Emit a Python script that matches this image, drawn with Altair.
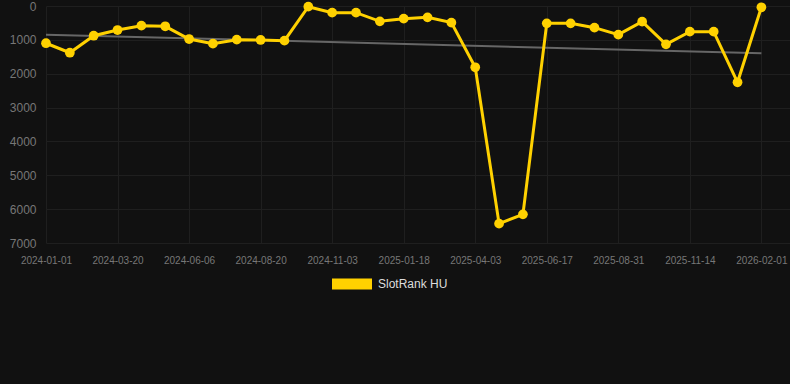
import altair as alt
import pandas as pd

# Data
tick_labels = ["2024-01-01", "2024-03-20", "2024-06-06", "2024-08-20", "2024-11-03",
               "2025-01-18", "2025-04-03", "2025-06-17", "2025-08-31", "2025-11-14",
               "2026-02-01"]
ranks = [1100, 1379, 877, 709, 581, 600, 975, 1112, 994, 1004, 1024,
         20, 197, 197, 453, 374, 335, 492, 1811, 6429, 6153,
         512, 512, 640, 847, 463, 1132, 758, 758, 2254, 39]
y_ticks = [0, 1000, 2000, 3000, 4000, 5000, 6000, 7000]
series_name = "SlotRank HU"

df = pd.DataFrame({
    "idx": list(range(len(ranks))),
    "rank": ranks,
    "series": [series_name] * len(ranks),
})

label_expr = "[" + ",".join(f"'{t}'" for t in tick_labels) + "][round(datum.value/3)]"

GOLD = "#FFD100"
BG = "#111111"

x_enc = alt.X("idx:Q",
              scale=alt.Scale(domain=[0, 31.2], nice=False, zero=False),
              axis=alt.Axis(values=list(range(0, 31, 3)), labelExpr=label_expr,
                            title=None, grid=True, domain=False, ticks=False,
                            labelFlush=False, labelOverlap=False,
                            labelFontSize=10, labelColor="#777777", labelPadding=12,
                            labelFont="Arial"))
y_enc = alt.Y("rank:Q",
              scale=alt.Scale(domain=[0, 7000], reverse=True, nice=False),
              axis=alt.Axis(values=y_ticks, tickCount=8,
                            format="d", labelOverlap=False, labelFlush=False,
                            title=None, grid=True, domain=False, ticks=False,
                            labelFontSize=12, labelColor="#777777", labelPadding=10,
                            labelFont="Arial"))

color_enc = alt.Color("series:N",
                      scale=alt.Scale(domain=[series_name], range=[GOLD]),
                      legend=alt.Legend(title=None, orient="none", legendX=286, legendY=258,
                                        symbolType="M-1,-0.275L1,-0.275L1,0.275L-1,0.275Z",
                                        symbolSize=1600, symbolFillColor=GOLD,
                                        symbolStrokeWidth=0, symbolOpacity=1,
                                        labelFontSize=12, labelColor="#dddddd",
                                        labelFont="Arial", labelOffset=6, padding=0))

base = alt.Chart(df)

trend = base.transform_regression("idx", "rank").mark_line(
    color="#666666", strokeWidth=2
).encode(x=x_enc, y=y_enc)

line = base.mark_line(strokeWidth=3).encode(x=x_enc, y=y_enc, color=color_enc)
points = base.mark_circle(size=95, opacity=1).encode(
    x=x_enc, y=y_enc, color=alt.Color("series:N", legend=None))

chart = alt.layer(trend, line, points).properties(
    width=744, height=237,
    background=BG,
    padding={"left": 46, "top": 6, "right": 0, "bottom": 141},
    autosize=alt.AutoSizeParams(type="none"),
).configure_view(stroke=None).configure_axis(
    gridColor="#1f1f1f", gridWidth=1
)

chart.save("out.html", embed_options={"renderer": "svg", "actions": False})
